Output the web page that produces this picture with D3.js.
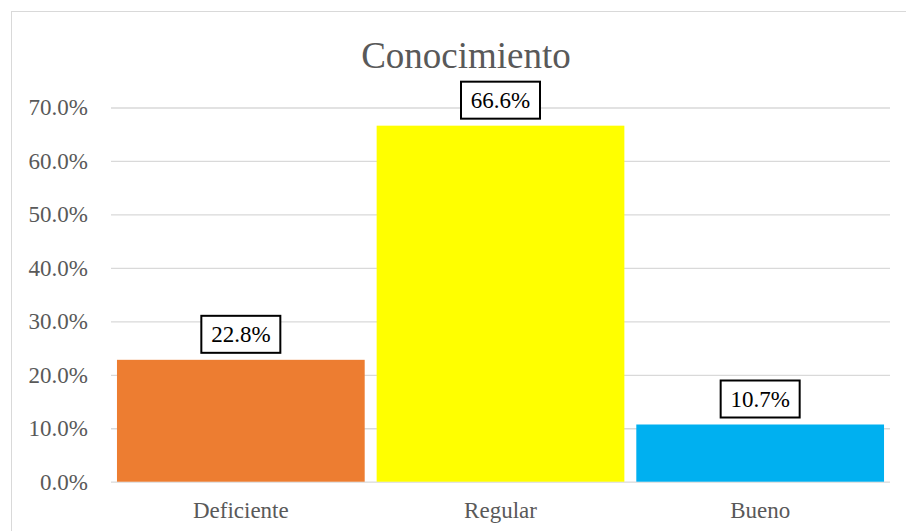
<!DOCTYPE html>
<html><head><meta charset="utf-8">
<script src="https://cdn.jsdelivr.net/npm/d3@7"></script>
<style>body{margin:0;background:#fff}svg{display:block}svg text{font-family:"Liberation Serif","Times New Roman",serif !important}</style>
</head><body>
<svg id="c" width="906" height="531"></svg>
<script>
const categories = ["Deficiente", "Regular", "Bueno"];
const values = [0.228, 0.666, 0.107];
const colors = ["#ED7D31", "#FFFF00", "#00B0F0"];
const tickValues = [0, 0.1, 0.2, 0.3, 0.4, 0.5, 0.6, 0.7];
const title = "Conocimiento";
const FONT = '"Liberation Serif","Times New Roman",serif';

const svg = d3.select("#c");
svg.append("rect").attr("x", 11.5).attr("y", 11.5).attr("width", 906).attr("height", 540)
  .attr("fill", "#fff").attr("stroke", "#d9d9d9").attr("stroke-width", 1);

const x0 = 111, x1 = 890, yBottom = 481.7, yTop = 107.5;
const y = d3.scaleLinear().domain([0, 0.7]).range([yBottom, yTop]);
const x = d3.scaleBand().domain(categories).range([x0, x1]).paddingInner(0.046).paddingOuter(0.023);

const yAxis = svg.append("g").attr("transform", `translate(${x0},0)`)
  .call(d3.axisLeft(y).tickValues(tickValues).tickSize(-(x1 - x0)).tickPadding(23).tickFormat(d3.format(".1%")));
yAxis.attr("font-family", FONT);
yAxis.select(".domain").remove();
yAxis.selectAll(".tick line").attr("stroke", "#d9d9d9").attr("stroke-width", 1.3);
yAxis.selectAll(".tick text").attr("fill", "#595959").style("font-size", "23px").style("font-family", FONT);

svg.append("g").selectAll("rect").data(categories).join("rect")
  .attr("x", d => x(d)).attr("width", x.bandwidth())
  .attr("y", (d, i) => y(values[i])).attr("height", (d, i) => yBottom - y(values[i]))
  .attr("fill", (d, i) => colors[i]);

const xAxis = svg.append("g").attr("transform", `translate(0,${yBottom})`)
  .call(d3.axisBottom(x).tickSize(0).tickPadding(20));
xAxis.attr("font-family", FONT);
xAxis.select(".domain").remove();
xAxis.selectAll(".tick text").attr("fill", "#595959").style("font-size", "23px").style("font-family", FONT);

const lab = svg.append("g").selectAll("g").data(categories).join("g")
  .attr("transform", (d, i) => `translate(${x(d) + x.bandwidth() / 2},${y(values[i]) - 25.5})`);
lab.append("rect").attr("x", -39.5).attr("y", -18.5).attr("width", 79).attr("height", 37)
  .attr("fill", "#fff").attr("stroke", "#000").attr("stroke-width", 2);
lab.append("text").attr("text-anchor", "middle").attr("dy", "0.35em").style("font-size", "23px")
  .style("font-family", FONT).attr("fill", "#000").text((d, i) => d3.format(".1%")(values[i]));

svg.append("text").attr("x", 466).attr("y", 68).attr("text-anchor", "middle")
  .style("font-size", "37px").style("font-family", FONT).attr("fill", "#595959").text(title);
</script>
</body></html>
